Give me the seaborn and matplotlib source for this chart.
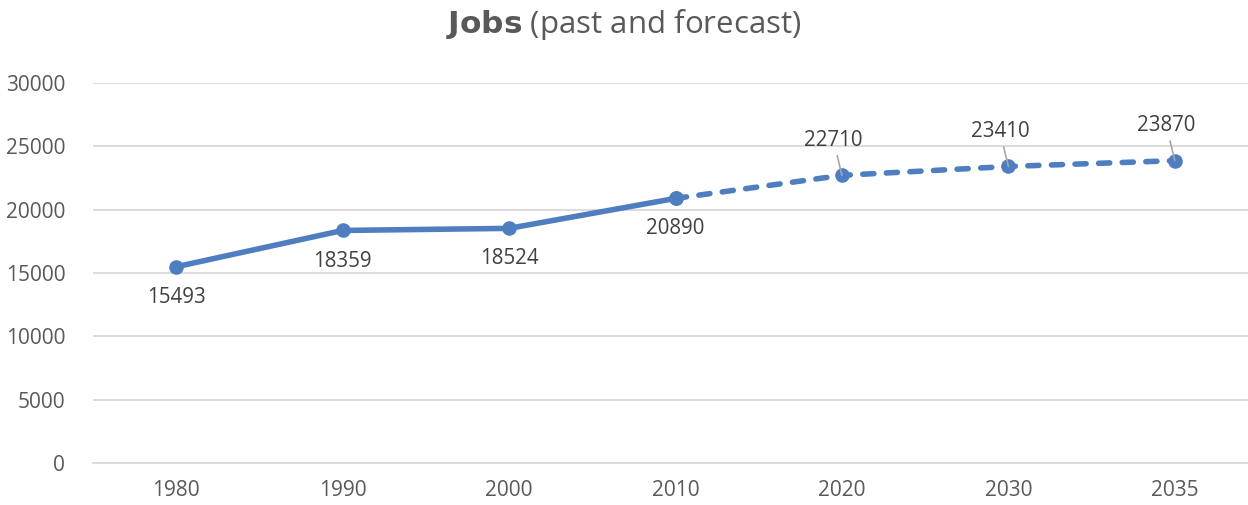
import pandas as pd
import seaborn as sns
import matplotlib.pyplot as plt

sns.set_theme(style="white")
plt.rcParams['font.family'] = ['Open Sans', 'DejaVu Sans']

years = ["1980", "1990", "2000", "2010", "2020", "2030", "2035"]
jobs = [15493, 18359, 18524, 20890, 22710, 23410, 23870]
n_past = 4  # 1980-2010 measured, rest is forecast

df = pd.DataFrame({"pos": range(len(years)), "year": years, "jobs": jobs})
past = df.iloc[:n_past]
fcst = df.iloc[n_past - 1:]

blue = "#4E7EC0"
grey = "#595959"

fig = plt.figure(figsize=(12.48, 5.05), dpi=100)
ax = fig.add_axes([93 / 1248, 42 / 505, 1165 / 1248, 380 / 505])

sns.lineplot(data=past, x="pos", y="jobs", ax=ax, color=blue, lw=4,
             marker="o", markersize=10.5, markeredgewidth=0)
sns.lineplot(data=fcst, x="pos", y="jobs", ax=ax, color=blue, lw=4,
             linestyle=(0, (2.0, 2.25)), dash_capstyle="round", marker="o",
             markersize=10.5, markeredgewidth=0)

ax.set_xlim(-0.5, len(years) - 0.5)
ax.set_ylim(0, 30000)
ax.set_yticks(range(0, 30001, 5000))
ax.set_xticks(df["pos"])
ax.set_xticklabels(years)
ax.yaxis.grid(True, color="#D9D9D9", lw=1.3)
ax.set_axisbelow(True)
for s in ["top", "right", "left"]:
    ax.spines[s].set_visible(False)
ax.spines["bottom"].set_color("#D9D9D9")
ax.spines["bottom"].set_linewidth(1.3)
ax.tick_params(axis="both", colors=grey, labelsize=15, length=0)
ax.tick_params(axis="y", pad=20)
ax.tick_params(axis="x", pad=12)
ax.set_xlabel("")
ax.set_ylabel("")

# data labels: below for measured, above with leader lines for forecast
for i, row in df.iterrows():
    if i < n_past:
        ax.annotate(str(row.jobs), (row.pos, row.jobs), xytext=(0, -22),
                    textcoords="offset points", ha="center", va="center",
                    fontsize=14.8, color="#404040")
    else:
        ax.annotate(str(row.jobs), (row.pos, row.jobs), xytext=(-6, 25),
                    textcoords="offset points", ha="center", va="center",
                    fontsize=14.8, color="#404040",
                    arrowprops=dict(arrowstyle="-", color="#A6A6A6", lw=1.2,
                                    shrinkA=1, shrinkB=0))

fig.text(0.5, 0.952, r"$\bf{Jobs}$ (past and forecast)", ha="center", va="center",
         fontsize=22.5, color=grey)

fig.savefig("out.png", dpi=100)
